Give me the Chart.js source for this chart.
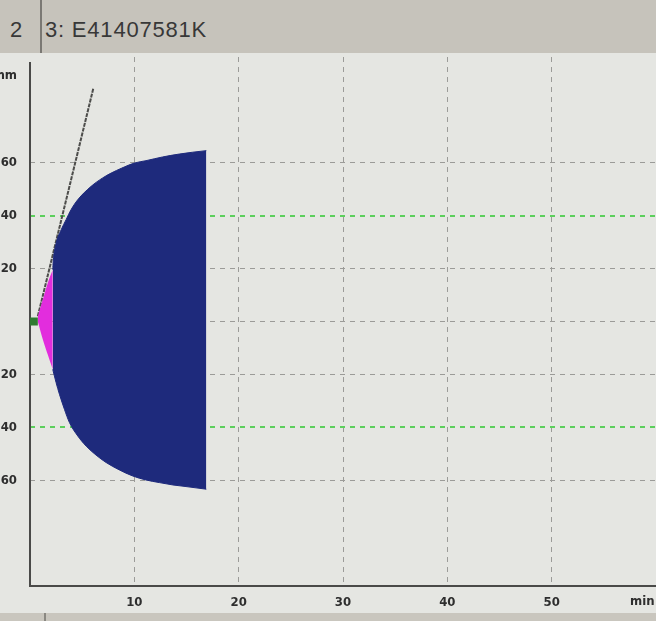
<!DOCTYPE html>
<html>
<head>
<meta charset="utf-8">
<script src="https://cdn.jsdelivr.net/npm/chart.js@4/dist/chart.umd.min.js"></script>
<style>
  html, body { margin: 0; padding: 0; width: 656px; height: 621px; overflow: hidden; background: #e5e6e2; }
  #wrap { position: relative; width: 656px; height: 621px; }
  #chart { position: absolute; left: 0; top: 0; }
  #header { position: absolute; left: 0; top: 0; width: 656px; height: 53px; background: #c6c3bb; z-index: 2;
            font-family: "Liberation Sans", Arial, sans-serif; font-size: 22px; color: #383838; }
  #header .tab1 { position: absolute; left: 10px; top: 17px; }
  #header .sep { position: absolute; left: 40px; top: 0; width: 2px; height: 53px; background: #7a7873; }
  #header .tab2 { position: absolute; left: 45px; top: 17px; letter-spacing: 0.8px; }
  #footer { position: absolute; left: 0; top: 613px; width: 656px; height: 8px; background: #c9c6be; z-index: 2; }
  #footer .sep { position: absolute; left: 44px; top: 0; width: 2px; height: 8px; background: #8a8882; }
</style>
</head>
<body>
<div id="wrap">
  <div id="header"><span class="tab1">2</span><div class="sep"></div><span class="tab2">3: E41407581K</span></div>
  <canvas id="chart" width="656" height="621"></canvas>
  <div id="footer"><div class="sep"></div></div>
</div>
<script>
// Reaction time segment (min, mm)
const rTime = [0, 0.75];
const rAmp = [0, 0];

// Clot kinetics phase (K), upper and lower amplitude (mm)
const kTime = [0.75, 1.23, 1.70, 2.18];
const kUpper = [2.0, 8.3, 14.6, 19.6];
const kLower = [0, -6.8, -12.5, -18.1];

// Clot development after K, upper trace
const clotTimeUpper = [2.18, 2.22, 2.51, 2.99, 3.46, 3.94, 4.57, 5.86, 6.97, 7.77, 8.80, 10.00, 11.12, 12.70, 14.30, 15.58, 16.90];
const clotAmpUpper  = [19.6, 22.5, 29.7, 34.7, 38.5, 42.3, 46.0, 51.1, 54.3, 56.1, 58.0, 59.9, 60.8, 62.2, 63.3, 64.0, 64.6];

// Clot development after K, lower trace
const clotTimeLower = [2.18, 2.50, 2.82, 3.30, 3.78, 4.58, 5.38, 6.33, 7.29, 8.56, 9.84, 11.10, 12.40, 13.70, 14.95, 16.90];
const clotAmpLower  = [-18.1, -23.1, -27.5, -33.2, -38.2, -43.3, -47.1, -50.5, -53.3, -56.1, -58.4, -59.9, -60.9, -61.8, -62.4, -63.4];

// Alpha angle tangent
const angleTime = [0.75, 6.08];
const angleAmp = [2.0, 88.3];

// Axis ticks
const xTicks = [10, 20, 30, 40, 50];
const yTicks = [-100, -80, -60, -40, -20, 0, 20, 40, 60, 80, 100];
const yLabelled = [20, 40, 60];

const BLUE = '#1e2a7c';
const PINK = '#e22ddd';
const GREEN_MARK = '#2f7a31';
const GRID_GRAY = '#9b9b98';
const GRID_GREEN = '#5ccf5c';
const NONE = 'rgba(0,0,0,0)';
const LABEL_FONT = '"DejaVu Sans Condensed", "DejaVu Sans", sans-serif';

// one grid colour per y tick: amplitude guide lines at 0, ±20, ±60 grey and ±40 green
const yGridColors = yTicks.map(v => Math.abs(v) === 40 ? GRID_GREEN : (Math.abs(v) <= 60 ? GRID_GRAY : NONE));
const yGridWidths = yTicks.map(v => Math.abs(v) === 40 ? 2 : 1);
const xGridColors = [NONE].concat(xTicks.map(() => GRID_GRAY), [NONE]);

function pts(xs, ys) { return xs.map((x, i) => ({ x: x, y: ys[i] })); }

const lineBase = { pointRadius: 0, borderWidth: 0, cubicInterpolationMode: 'monotone' };

const axesPlugin = {
  id: 'axesAndUnits',
  beforeDatasetsDraw(chart) {
    const { ctx, chartArea } = chart;
    ctx.save();
    ctx.strokeStyle = '#4a4a48';
    ctx.lineWidth = 2;
    ctx.beginPath();
    ctx.moveTo(chartArea.left, 62);
    ctx.lineTo(chartArea.left, chartArea.bottom);
    ctx.lineTo(chartArea.right, chartArea.bottom);
    ctx.stroke();
    ctx.restore();
  },
  afterDraw(chart) {
    const { ctx } = chart;
    ctx.save();
    ctx.fillStyle = '#2e2e2e';
    ctx.font = 'bold 13px ' + LABEL_FONT;
    ctx.textBaseline = 'middle';
    ctx.textAlign = 'right';
    ctx.fillText('mm', 17, 76);
    ctx.textAlign = 'left';
    ctx.fillText('min', 630, 602);
    ctx.restore();
  }
};

new Chart(document.getElementById('chart'), {
  type: 'line',
  data: {
    datasets: [
      Object.assign({}, lineBase, { data: pts(kTime, kUpper), backgroundColor: PINK, borderColor: PINK, fill: '+1' }),
      Object.assign({}, lineBase, { data: pts(kTime, kLower), backgroundColor: PINK, borderColor: PINK, fill: false }),
      Object.assign({}, lineBase, { data: pts(clotTimeUpper, clotAmpUpper), backgroundColor: BLUE, borderColor: BLUE, borderWidth: 1, fill: '+1' }),
      Object.assign({}, lineBase, { data: pts(clotTimeLower, clotAmpLower), backgroundColor: BLUE, borderColor: BLUE, borderWidth: 1, fill: false }),
      { data: pts(rTime, rAmp), borderColor: GREEN_MARK, borderWidth: 8, pointRadius: 0, fill: false, borderCapStyle: 'butt' },
      { data: pts(angleTime, angleAmp), borderColor: '#4d4d4b', borderWidth: 2, borderDash: [4, 1], pointRadius: 0, fill: false }
    ]
  },
  options: {
    responsive: false,
    animation: false,
    events: [],
    layout: { padding: { top: 57, left: 0, right: 0, bottom: 0 } },
    plugins: { legend: { display: false }, tooltip: { enabled: false }, title: { display: false } },
    scales: {
      x: {
        type: 'linear',
        min: 0,
        max: 60,
        afterFit(scale) { scale.height = 35; scale.paddingLeft = 0; scale.paddingRight = 0; },
        afterBuildTicks(scale) { scale.ticks = [0].concat(xTicks, [60]).map(v => ({ value: v })); },
        border: { display: false, dash: [5, 5] },
        grid: { drawTicks: false, lineWidth: 1, color: xGridColors },
        ticks: {
          autoSkip: false,
          maxRotation: 0,
          padding: 9,
          color: '#2e2e2e',
          font: { family: LABEL_FONT, size: 13, weight: 'bold' },
          callback: (v) => xTicks.includes(v) ? String(v) : ''
        }
      },
      y: {
        type: 'linear',
        min: -100,
        max: 100,
        afterFit(scale) { scale.width = 30; scale.paddingTop = 0; scale.paddingBottom = 0; },
        afterBuildTicks(scale) { scale.ticks = yTicks.map(v => ({ value: v })); },
        border: { display: false, dash: [5, 5] },
        grid: { drawTicks: false, lineWidth: yGridWidths, color: yGridColors },
        ticks: {
          autoSkip: false,
          padding: 13,
          color: '#2e2e2e',
          font: { family: LABEL_FONT, size: 13, weight: 'bold' },
          callback: (v) => yLabelled.includes(Math.abs(v)) ? String(Math.abs(v)) : ''
        }
      }
    }
  },
  plugins: [axesPlugin]
});
</script>
</body>
</html>
